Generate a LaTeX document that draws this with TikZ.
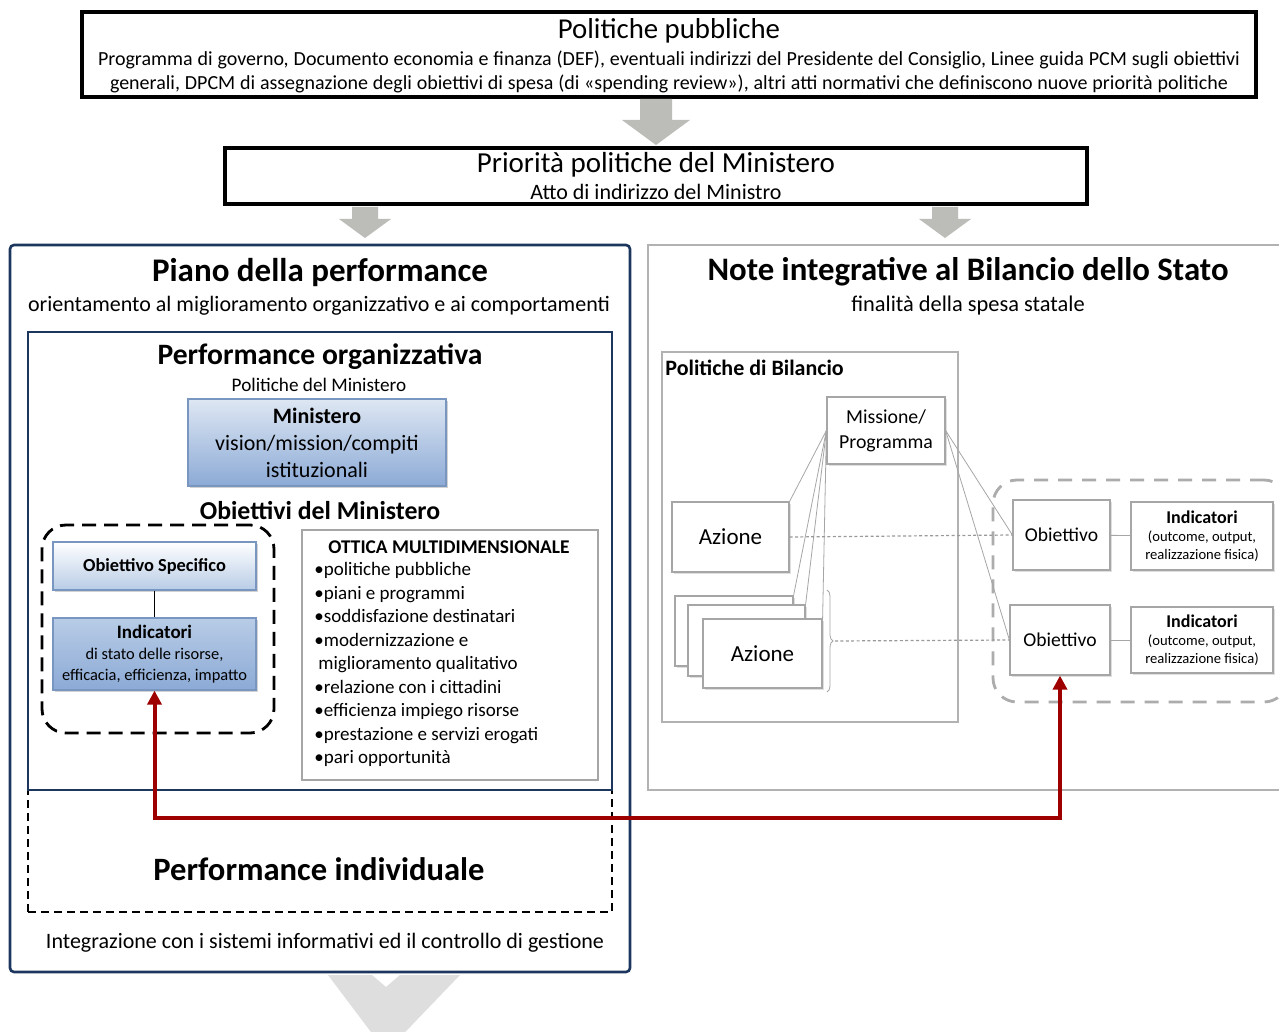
\documentclass[tikz,border=0pt]{standalone}
\usepackage{fontspec}
\setmainfont{Carlito}
\usetikzlibrary{positioning,arrows.meta,decorations.pathreplacing,shadows}

\definecolor{navyline}{RGB}{28,54,94}
\definecolor{arrowgray}{RGB}{188,188,184}
\definecolor{palegray}{RGB}{222,222,222}
\definecolor{darkred}{RGB}{158,0,0}
\definecolor{blueedge}{RGB}{120,150,192}
\definecolor{bluetop}{RGB}{222,231,243}
\definecolor{bluemid}{RGB}{184,204,230}
\definecolor{bluebot}{RGB}{140,170,214}
\newcommand{\fsz}[2]{\fontsize{#1}{#2}\selectfont}

\begin{document}
\begin{tikzpicture}[x=0.5pt, y=-0.5pt,
    frame/.style={draw, inner sep=0pt},
    grayarrow/.style={fill=arrowgray},
    plainbox/.style={draw=gray!70, fill=white, line width=0.6pt, inner sep=1pt, align=center,
        drop shadow={opacity=0.25, shadow xshift=0.8pt, shadow yshift=-0.8pt}},
    bluebox/.style={draw=blueedge, line width=0.6pt, inner sep=1pt, align=center,
        drop shadow={opacity=0.35, shadow xshift=0.8pt, shadow yshift=-0.8pt}},
    thinline/.style={draw=gray!70, line width=0.4pt},
    dotline/.style={draw=gray!80, line width=0.6pt, dash pattern=on 1.5pt off 1.2pt}
  ]
  \fill[white] (0,0) rectangle (1279,1032);
  \useasboundingbox (0,0) rectangle (1279,1032);

  % Politiche pubbliche
  \node[frame, line width=1.6pt, minimum width=587pt, minimum height=42.5pt] (pub) at (669,54.5) {};
  \node[font=\fsz{14.4}{16}] (pubtitle) at (669,31) {Politiche pubbliche};
  \node[font=\fsz{10}{12}] (publine1) at (669,60)
    {\makebox[571pt][s]{Programma di governo, Documento economia e finanza (DEF), eventuali indirizzi del Presidente del Consiglio, Linee guida PCM sugli obiettivi}};
  \node[font=\fsz{10}{12}] (publine2) at (669,84)
    {\makebox[559pt][s]{generali, DPCM di assegnazione degli obiettivi di spesa (di «spending review»), altri atti normativi che definiscono nuove priorità politiche}};

  \fill[grayarrow] (640,99) -- (672,99) -- (672,120) -- (690,120) -- (656,145) -- (622,120) -- (640,120) -- cycle;

  % Priorita politiche
  \node[frame, line width=1.6pt, minimum width=431pt, minimum height=28pt] (pri) at (656,176) {};
  \node[font=\fsz{14.5}{16}] (prititle) at (656,165) {Priorità politiche del Ministero};
  \node[font=\fsz{11}{12}] (prisub) at (656,192) {Atto di indirizzo del Ministro};

  \foreach \ax in {365,945}
    \fill[grayarrow] (\ax-13,207) -- (\ax+13,207) -- (\ax+13,219) -- (\ax+26,219) -- (\ax,238)
      -- (\ax-26,219) -- (\ax-13,219) -- cycle;

  % Piano della performance
  \node[frame, draw=navyline, line width=1.3pt, rounded corners=2pt, minimum width=310pt, minimum height=363.5pt] (piano) at (320,608.5) {};
  \node[font=\fsz{16.5}{18}\bfseries] (pianotitle) at (320,273) {Piano della performance};
  \node[font=\fsz{11}{12}] (pianosub) at (319,306) {orientamento al miglioramento organizzativo e ai comportamenti};

  \node[frame, line width=0.8pt, dash pattern=on 4pt off 2.5pt, minimum width=292pt, minimum height=61pt] (perfind) at (320,851) {};
  \node[font=\fsz{16.3}{18}\bfseries] (perfindtitle) at (319,869) {Performance individuale};
  \node[frame, draw=navyline, line width=1.4pt, minimum width=292pt, minimum height=229pt] (perforg) at (320,561) {};
  \node[font=\fsz{14.8}{17}\bfseries] (perforgtitle) at (320,357) {Performance organizzativa};
  \node[font=\fsz{9.6}{11}] (perforgsub) at (319,385) {Politiche del Ministero};
  \node[font=\fsz{11}{12}] (integr) at (325,943) {Integrazione con i sistemi informativi ed il controllo di gestione};

  \node[bluebox, top color=bluetop, bottom color=bluebot, minimum width=129pt, minimum height=43.5pt,
        font=\fsz{11}{13.5}] (mini) at (317,442.5) {\textbf{Ministero}\\vision/mission/compiti\\istituzionali};
  \node[font=\fsz{12.9}{14}\bfseries] (obmin) at (320,511) {Obiettivi del Ministero};

  \node[frame, line width=1.4pt, dash pattern=on 7pt off 4pt, rounded corners=12pt, minimum width=116pt, minimum height=104pt] (objgrp) at (158,629) {};
  \node[bluebox, top color=white, bottom color=bluemid, minimum width=101.5pt, minimum height=24pt,
        font=\fsz{9.2}{10}\bfseries] (objspec) at (154.5,566) {Obiettivo Specifico};
  \node[bluebox, top color=bluemid, bottom color=bluebot, minimum width=101.5pt, minimum height=36pt,
        font=\fsz{8.2}{10.5}] (ind) at (154.5,654) {{\fsz{9.5}{11}\textbf{Indicatori}}\\di stato delle risorse,\\efficacia, efficienza, impatto};
  \draw (objspec) -- (ind);

  \node[frame, draw=gray!70, line width=0.7pt, minimum width=148pt, minimum height=125pt] (ottica) at (450,655) {};
  \node[font=\fsz{9.7}{11}\bfseries] (otticatitle) at (449,547) {OTTICA MULTIDIMENSIONALE};
  \node[anchor=north west, align=left, inner sep=0pt, font=\fsz{9.5}{11.75}] (otticalist) at (314,562)
    {•politiche pubbliche\\•piani e programmi\\•soddisfazione destinatari\\•modernizzazione e\\
     \hspace{2pt}miglioramento qualitativo\\•relazione con i cittadini\\•efficienza impiego risorse\\
     •prestazione e servizi erogati\\•pari opportunità};

  \fill[palegray] (328,975) -- (372,975) -- (386,987) -- (400,975) -- (460,975) -- (386,1052) -- cycle;

  % Note integrative
  \node[frame, draw=gray!60, line width=1.3pt, minimum width=321pt, minimum height=272.5pt] (note) at (969,517.5) {};
  \node[font=\fsz{16.4}{18}\bfseries] (notetitle) at (968,272) {Note integrative al Bilancio dello Stato};
  \node[font=\fsz{11.2}{12}] (notesub) at (968,306) {finalità della spesa statale};

  \node[frame, draw=gray!60, line width=1.2pt, minimum width=148pt, minimum height=185pt] (polbil) at (810,537) {};
  \node[anchor=north west, inner sep=0pt, font=\fsz{11}{12}\bfseries] (polbiltitle) at (665,360) {Politiche di Bilancio};

  \node[plainbox, minimum width=59pt, minimum height=33.5pt, font=\fsz{9.9}{12.5}] (mis) at (886,430.5) {Missione/\\Programma};
  \node[plainbox, minimum width=58.5pt, minimum height=35pt, font=\fsz{11.5}{12}] (az1) at (730.5,537) {Azione};
  \node[plainbox, minimum width=59pt, minimum height=35pt] (stk1) at (734,631) {};
  \node[plainbox, minimum width=58.5pt, minimum height=35.5pt] (stk2) at (746.5,640.5) {};
  \node[plainbox, minimum width=59.5pt, minimum height=34.5pt, font=\fsz{11.5}{12}] (az2) at (762.5,653.5) {Azione};
  \draw[thinline] (mis.west) -- (az1.north east);
  \draw[thinline] (mis.west) -- (stk1.north east);
  \draw[thinline] (mis.west) -- (stk2.north east);
  \draw[thinline] (mis.west) -- (az2.north east);
  \draw[thinline, decorate, decoration={brace, amplitude=3pt}] (827,590) -- (827,692)
    coordinate[pos=0.5, xshift=4pt] (bracetip);

  \node[frame, draw=gray!65, line width=1.4pt, dash pattern=on 7pt off 5pt, rounded corners=12pt, minimum width=147.5pt, minimum height=111pt] (indgrp) at (1140.5,591) {};
  \node[plainbox, minimum width=48.5pt, minimum height=35pt, font=\fsz{9.8}{11}] (obj1) at (1061.5,535) {Obiettivo};
  \node[plainbox, minimum width=71pt, minimum height=34pt, font=\fsz{7.3}{9}] (ind1) at (1202,536)
    {{\fsz{9}{10.5}\textbf{Indicatori}}\\(outcome, output,\\realizzazione fisica)};
  \node[plainbox, minimum width=50pt, minimum height=35pt, font=\fsz{9.8}{11}] (obj2) at (1060,640) {Obiettivo};
  \node[plainbox, minimum width=71pt, minimum height=33pt, font=\fsz{7.3}{9}] (ind2) at (1202,640)
    {{\fsz{9}{10.5}\textbf{Indicatori}}\\(outcome, output,\\realizzazione fisica)};
  \draw[thinline] (obj1) -- (ind1);
  \draw[thinline] (obj2) -- (ind2);
  \draw[thinline] (mis.east) -- (obj1.west);
  \draw[thinline] (mis.east) -- (obj2.west);
  \draw[dotline] (az1.east) -- (obj1.west);
  \draw[dotline] (bracetip) -- (obj2.west);

  % collegamento
  \coordinate (redturn) at (600,818);
  \draw[darkred, line width=2pt, {Triangle[length=7pt,width=7pt]}-{Triangle[length=7pt,width=7pt]}]
    (ind.south) |- (redturn) -| (obj2.south);
\end{tikzpicture}
\end{document}
